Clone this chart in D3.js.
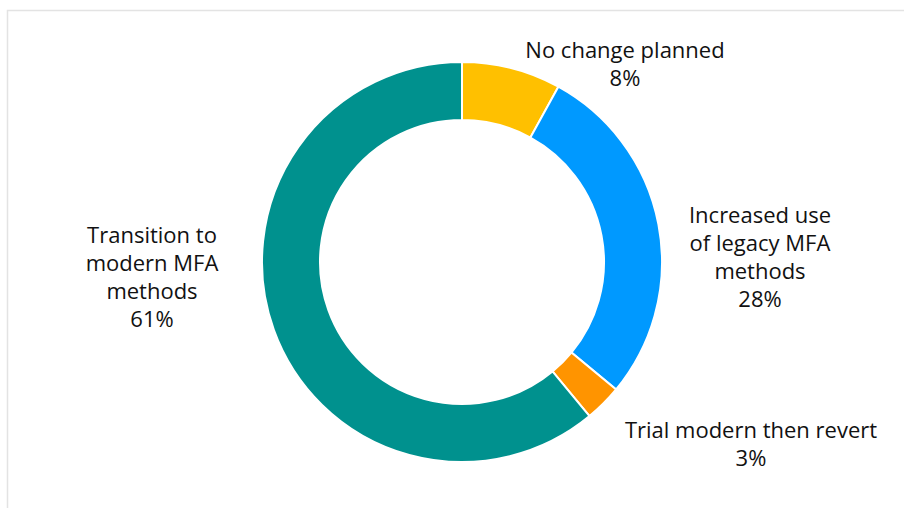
<!DOCTYPE html>
<html>
<head>
<meta charset="utf-8">
<script src="https://cdn.jsdelivr.net/npm/d3@7"></script>
<style>
  body { margin: 0; background: #fff; }
  text { font-family: "Open Sans", "Liberation Sans", Arial, sans-serif; fill: #111; }
</style>
</head>
<body>
<div class="chart"></div>
<script>
// data
var categories = ["No change planned", "Increased use of legacy MFA methods", "Trial modern then revert", "Transition to modern MFA methods"];
var values = [8, 28, 3, 61];
var colors = ["#FFC000", "#0099FF", "#FF9400", "#00918E"];
// label lines (as wrapped in the original)
var labelLines = [
  ["No change planned"],
  ["Increased use", "of legacy MFA", "methods"],
  ["Trial modern then revert"],
  ["Transition to", "modern MFA", "methods"]
];
// first baseline of each label block
var labelPos = [[625, 58], [760, 223], [751, 438], [152, 243]];

var width = 904, height = 508;
var cx = 462, cy = 262;
var outerR = 200, innerR = 142;
var lineH = 28;

var svg = d3.select('.chart')
  .append('svg')
    .attr('width', width)
    .attr('height', height);

svg.append('rect')
  .attr('x', 7.5)
  .attr('y', 10.5)
  .attr('width', width)
  .attr('height', height)
  .attr('fill', 'none')
  .attr('stroke', '#e3e3e3')
  .attr('stroke-width', 1.5);

var pie = d3.pie().sort(null).value(function(d) { return d; });
var arc = d3.arc().innerRadius(innerR).outerRadius(outerR);

var g = svg.append('g')
  .attr('transform', `translate(${cx}, ${cy})`);

g.selectAll('path')
  .data(pie(values))
  .enter()
  .append('path')
    .attr('d', arc)
    .attr('fill', function(d, i) { return colors[i]; })
    .attr('stroke', '#fff')
    .attr('stroke-width', 2);

var labels = svg.selectAll('text.lbl')
  .data(categories)
  .enter()
  .append('text')
    .attr('class', 'lbl')
    .attr('text-anchor', 'middle')
    .attr('font-size', 22)
    .attr('x', function(d, i) { return labelPos[i][0]; })
    .attr('y', function(d, i) { return labelPos[i][1]; });

labels.each(function(d, i) {
  var t = d3.select(this);
  var lines = labelLines[i].concat([values[i] + '%']);
  lines.forEach(function(line, j) {
    t.append('tspan')
      .attr('x', labelPos[i][0])
      .attr('dy', j === 0 ? 0 : lineH)
      .text(line);
  });
});
</script>
</body>
</html>
